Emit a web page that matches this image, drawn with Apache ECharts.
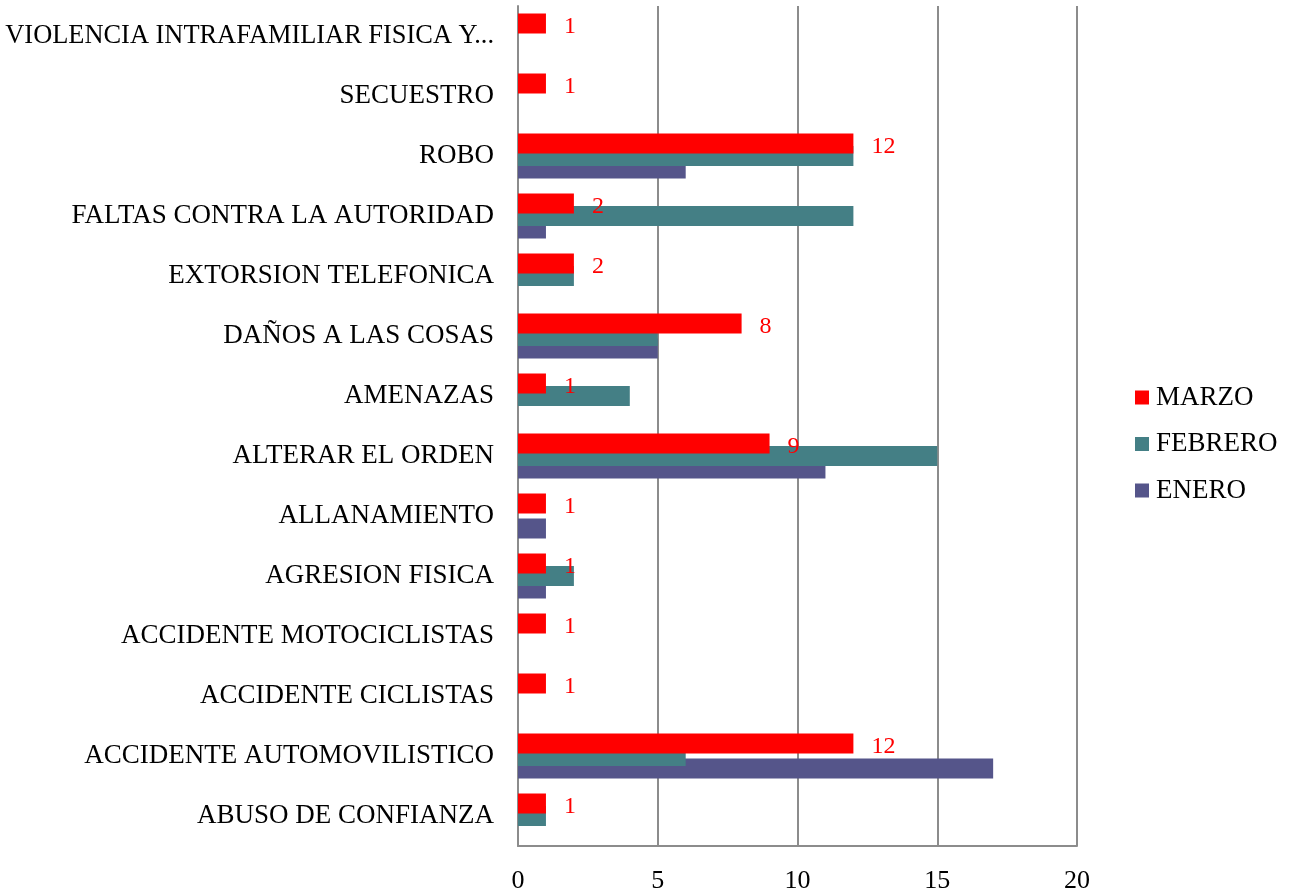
<!DOCTYPE html>
<html>
<head>
<meta charset="utf-8">
<script src="https://cdn.jsdelivr.net/npm/echarts@6/dist/echarts.min.js"></script>
<style>
  html, body { margin: 0; padding: 0; background: #fff; }
  #chart { width: 1294px; height: 894px; }
</style>
</head>
<body>
<div id="chart"></div>
<script>
// categories bottom -> top
const categories = [
  'ABUSO DE CONFIANZA',
  'ACCIDENTE AUTOMOVILISTICO',
  'ACCIDENTE CICLISTAS',
  'ACCIDENTE MOTOCICLISTAS',
  'AGRESION FISICA',
  'ALLANAMIENTO',
  'ALTERAR EL ORDEN',
  'AMENAZAS',
  'DAÑOS A LAS COSAS',
  'EXTORSION TELEFONICA',
  'FALTAS CONTRA LA AUTORIDAD',
  'ROBO',
  'SECUESTRO',
  'VIOLENCIA INTRAFAMILIAR FISICA Y...'
]
const enero   = [0, 17, 0, 0, 1, 1, 11, 0, 5, 0, 1, 6, 0, 0]
const febrero = [1, 6, 0, 0, 2, 0, 15, 4, 5, 2, 12, 12, 0, 0]
const marzo   = [1, 12, 1, 1, 1, 1, 9, 1, 8, 2, 2, 12, 1, 1]
const xTicks = [0, 5, 10, 15, 20]

const font = '"Liberation Serif", "DejaVu Serif", serif'
const gray = '#8c8c8c'

const myChart = echarts.init(document.getElementById('chart'))
const barBase = {
  type: 'bar',
  barWidth: 20,
  barGap: '-37.5%',
  animation: false
}
// the long truncated label gets a hair smaller so it stays inside the page
const yData = categories.map(c => c.endsWith('...') ? { value: c, textStyle: { fontSize: 26.4 } } : c)

myChart.setOption({
  textStyle: { fontFamily: font },
  grid: { left: 518, right: 217, top: 6, bottom: 48, containLabel: false, outerBoundsMode: 'none' },
  legend: {
    orient: 'vertical',
    left: 1135,
    top: 384,
    padding: 0,
    itemWidth: 14,
    itemHeight: 14,
    itemGap: 19.5,
    icon: 'rect',
    data: ['MARZO', 'FEBRERO', 'ENERO'],
    textStyle: { fontFamily: font, fontSize: 27, color: '#000', padding: [0, 0, 0, 2] }
  },
  xAxis: {
    type: 'value',
    min: xTicks[0],
    max: xTicks[xTicks.length - 1],
    interval: 5,
    axisLine: { show: true, lineStyle: { color: gray, width: 2 } },
    axisTick: { show: false },
    axisLabel: { fontFamily: font, fontSize: 26, color: '#000', margin: 22 },
    splitLine: { show: true, lineStyle: { color: gray, width: 2 } }
  },
  yAxis: {
    type: 'category',
    data: yData,
    axisLine: { show: true, lineStyle: { color: gray, width: 2 } },
    axisTick: { show: false },
    axisLabel: { fontFamily: font, fontSize: 27, color: '#000', margin: 24, interval: 0 },
    splitLine: { show: false }
  },
  // first series sits at the top of each group; z keeps red drawn over the others
  series: [
    {
      ...barBase, name: 'MARZO', data: marzo, z: 4, itemStyle: { color: '#ff0000' },
      label: {
        show: true,
        position: 'right',
        distance: 18,
        offset: [0, 3],
        color: '#ff0000',
        fontFamily: font,
        fontSize: 24
      }
    },
    { ...barBase, name: 'FEBRERO', data: febrero, z: 3, itemStyle: { color: '#447f85' } },
    { ...barBase, name: 'ENERO', data: enero, z: 2, itemStyle: { color: '#55558a' } }
  ]
})
</script>
</body>
</html>
